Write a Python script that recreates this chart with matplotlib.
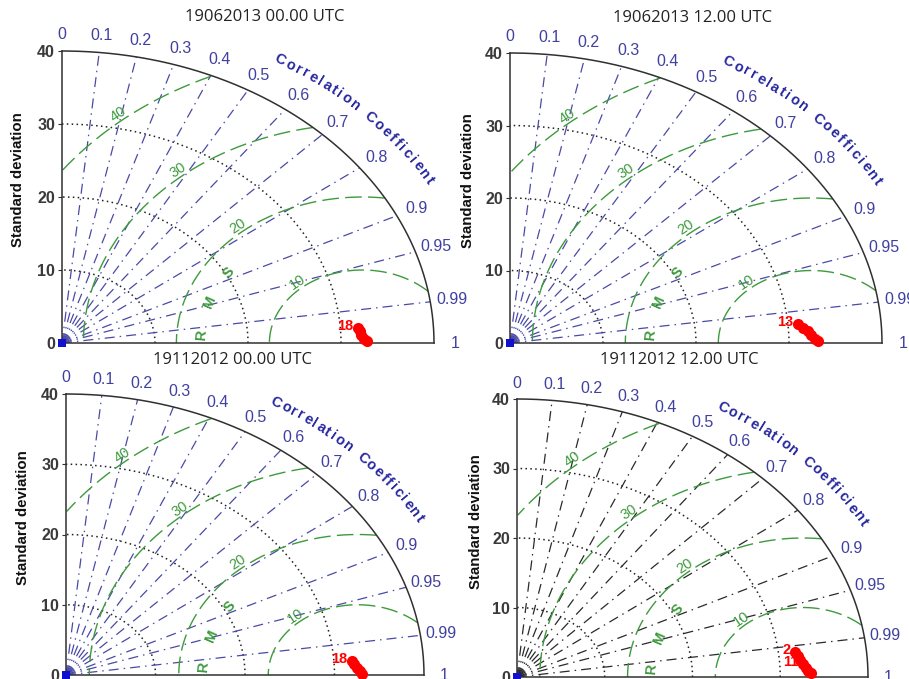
import numpy as np
import matplotlib
matplotlib.use('Agg')
import matplotlib.pyplot as plt
from matplotlib import font_manager
from matplotlib.textpath import text_to_path
from matplotlib.font_manager import FontProperties

# ---------------- data ----------------
titles = ['19062013 00.00 UTC', '19062013 12.00 UTC',
          '19112012 00.00 UTC', '19112012 12.00 UTC']
ref_std = [32.3, 32.4, 32.6, 32.6]
std_max = 40
std_ticks = [0, 10, 20, 30, 40]
std_arcs = [10, 20, 30]
rms_levels = [10, 20, 30, 40]
corr_lines = [0.1, 0.2, 0.3, 0.4, 0.5, 0.6, 0.7, 0.8, 0.9, 0.95, 0.99]
corr_tick_values = [0, 0.1, 0.2, 0.3, 0.4, 0.5, 0.6, 0.7, 0.8, 0.9, 0.95, 0.99, 1]
corr_tick_labels = ['0', '0.1', '0.2', '0.3', '0.4', '0.5', '0.6', '0.7',
                    '0.8', '0.9', '0.95', '0.99', '1']

model_std_1 = [31.863, 32.040, 32.219, 32.506, 32.801]
model_corr_1 = [0.99803, 0.99875, 0.99942, 0.99983, 0.99998]
model_lab_1 = ['18', '', '', '', '']

model_std_2 = [31.109, 31.570, 32.040, 32.419, 32.806, 33.101]
model_corr_2 = [0.99650, 0.99778, 0.99875, 0.99942, 0.99983, 0.99998]
model_lab_2 = ['13', '', '', '', '', '']

model_std_3 = [31.963, 32.235, 32.515, 32.804, 33.101]
model_corr_3 = [0.99803, 0.99892, 0.99953, 0.99988, 0.99998]
model_lab_3 = ['18', '', '', '', '']

model_std_4 = [31.904, 32.140, 32.389, 32.650, 32.926, 33.212, 33.505]
model_corr_4 = [0.99361, 0.99564, 0.99725, 0.99847, 0.99922, 0.99963, 0.99984]
model_lab_4 = ['2', '', '', '11', '', '', '']

model_std = [model_std_1, model_std_2, model_std_3, model_std_4]
model_corr = [model_corr_1, model_corr_2, model_corr_3, model_corr_4]
model_lab = [model_lab_1, model_lab_2, model_lab_3, model_lab_4]

# ---------------- style ----------------
W, H = 909, 679
def has_font(name):
    try:
        font_manager.findfont(name, fallback_to_default=False)
        return True
    except Exception:
        return False

narrow = 'Liberation Sans Narrow' if has_font('Liberation Sans Narrow') else 'Liberation Sans'
title_font = 'Open Sans' if has_font('Open Sans') else 'DejaVu Sans'
plt.rcParams['font.family'] = ['Liberation Sans', 'DejaVu Sans']

BLUE_LINE = '#4a4aa6'
BLUE_TXT = '#4040a0'
BLUE_CC = '#2828a0'
GREEN = '#3d9a3d'
panel_line_colors = [BLUE_LINE, BLUE_LINE, BLUE_LINE, '#2a2a2a']

# axes pixel boxes: (x_origin, y_origin, x_at_40, y_at_40)
boxes = [(62, 343, 434, 51), (510, 343, 882, 53),
         (66, 675, 424, 394), (517, 677, 868, 399)]
title_pos = [(265, 17), (693, 18), (233, 360), (679, 360)]
ylabel_x = [18, 468, 23, 476]

fig = plt.figure(figsize=(W / 100, H / 100), dpi=100)


def curved_text(ax, text, r, th0, th1, fs, color, sx, sy):
    fp = FontProperties(family='Liberation Sans', weight='bold', size=fs)
    widths = []
    for ch in text:
        if ch == ' ':
            widths.append(fs * 0.45)
        else:
            w, h, d = text_to_path.get_text_width_height_descent(ch, fp, ismath=False)
            widths.append(w)
    gap = fs * 0.18
    centers = []
    pos = 0.0
    for w in widths:
        centers.append(pos + w / 2)
        pos += w + gap
    total = pos - gap
    ths = np.linspace(np.radians(th0), np.radians(th1), 600)
    px = r * np.cos(ths) * sx
    py = r * np.sin(ths) * sy
    cum = np.concatenate([[0], np.cumsum(np.hypot(np.diff(px), np.diff(py)))])
    for ch, c in zip(text, centers):
        if ch == ' ':
            continue
        L = c / total * cum[-1]
        th = np.interp(L, cum, ths)
        rot = np.degrees(np.arctan2(-np.cos(th) * sy, np.sin(th) * sx))
        ax.text(r * np.cos(th), r * np.sin(th), ch, fontsize=fs, fontweight='bold',
                color=color, rotation=rot, rotation_mode='anchor',
                ha='center', va='center', clip_on=False, family='Liberation Sans')


for i in range(4):
    x0, y0, x1, y1 = boxes[i]
    ax = fig.add_axes([x0 / W, 1 - y0 / H, (x1 - x0) / W, (y0 - y1) / H])
    ax.set_xlim(0, std_max)
    ax.set_ylim(0, std_max)
    sx = (x1 - x0) / std_max
    sy = (y0 - y1) / std_max
    for s in ['top', 'right']:
        ax.spines[s].set_visible(False)
    for s in ['left', 'bottom']:
        ax.spines[s].set_color('#303030')
        ax.spines[s].set_linewidth(1.1)
    ax.set_xticks([])
    ax.set_yticks(std_ticks)
    ax.set_yticklabels([str(t) for t in std_ticks], fontsize=11.5, fontweight='bold',
                       color='#3a3a3a')
    ax.tick_params(axis='y', length=3, width=0.8, color='#303030', pad=2)
    ax.patch.set_alpha(0)

    th = np.linspace(0, np.pi / 2, 400)
    # outer arc
    ax.plot(std_max * np.cos(th), std_max * np.sin(th), color='#303030', lw=1.1,
            clip_on=False, zorder=3)
    # std dotted arcs
    for r in std_arcs:
        ax.plot(r * np.cos(th), r * np.sin(th), color='#202020', lw=1.1,
                linestyle=(0, (1.0, 2.2)), zorder=2)
    # correlation lines
    for c in corr_lines:
        a = np.arccos(c)
        ax.plot([0, std_max * np.cos(a)], [0, std_max * np.sin(a)],
                color=panel_line_colors[i], lw=0.9,
                linestyle=(0, (8, 4, 1.2, 4)), zorder=2)
    # RMS arcs
    phi = np.linspace(0, np.pi, 800)
    for r in rms_levels:
        xx = ref_std[i] + r * np.cos(phi)
        yy = r * np.sin(phi)
        m = (xx ** 2 + yy ** 2 <= std_max ** 2) & (xx >= 0)
        xx = np.where(m, xx, np.nan)
        yy = np.where(m, yy, np.nan)
        ax.plot(xx, yy, color=GREEN, lw=1.0, linestyle=(0, (12, 4.5)), zorder=2)
        p = np.radians(130)
        lx = ref_std[i] + (r + 0.9) * np.cos(p)
        ly = (r + 0.9) * np.sin(p)
        rot = np.degrees(np.arctan2(-np.cos(p) * sy, np.sin(p) * sx))
        ax.text(lx, ly, str(r), fontsize=10.5, color=GREEN, rotation=rot,
                rotation_mode='anchor', ha='center', va='center', zorder=4)
    # RMS letters
    for ch, ang in zip('RMS', [176, 161, 146]):
        p = np.radians(ang)
        rr = 17.3
        rot = np.degrees(np.arctan2(-np.cos(p) * sy, np.sin(p) * sx))
        ax.text(ref_std[i] + rr * np.cos(p), rr * np.sin(p), ch, fontsize=10.5,
                fontweight='bold', color=GREEN, rotation=rot,
                rotation_mode='anchor', ha='center', va='center', zorder=4)
    # correlation tick labels
    for v, lab in zip(corr_tick_values, corr_tick_labels):
        a = np.arccos(v)
        rr = 42.3
        ax.text(rr * np.cos(a), rr * np.sin(a), lab, fontsize=11.5, color=BLUE_TXT,
                ha='center', va='center', clip_on=False)
    curved_text(ax, 'Correlation Coefficient', 45.3, 59.5, 29.0, 10.5, BLUE_CC, sx, sy)

    # observation marker
    ax.plot([0], [0], marker='s', markersize=6, color='#1010d0', clip_on=False,
            zorder=5, markeredgewidth=0)
    # models
    ms = np.array(model_std[i])
    mc = np.array(model_corr[i])
    mx = ms * mc
    my = ms * np.sin(np.arccos(mc))
    ax.plot(mx, my, 'o', color='#ff0000', markersize=8, markeredgewidth=0,
            clip_on=False, zorder=6)
    for xx, yy, lab in zip(mx, my, model_lab[i]):
        if lab:
            ax.text(xx - 0.5, yy + 0.3, lab, fontsize=10.5, fontweight='bold',
                    color='#ff0000', ha='right', va='center', zorder=7)

    # labels
    ax.text((ylabel_x[i] - x0) / (x1 - x0), 0.56, 'Standard deviation', transform=ax.transAxes,
            rotation=90, ha='center', va='center', fontsize=10.8, fontweight='bold',
            family=narrow, color='#111111')
    fig.text(title_pos[i][0] / W, 1 - title_pos[i][1] / H, titles[i], ha='center',
             va='center', fontsize=12, family=title_font, color='#222222')

fig.savefig('out.png', dpi=100, facecolor='white')
